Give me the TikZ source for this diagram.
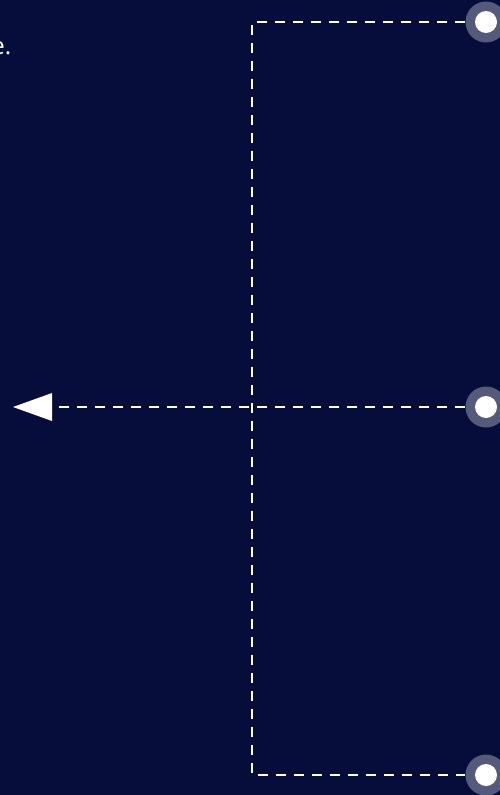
\documentclass[tikz,border=0pt]{standalone}
\usepackage{fontspec}
\setmainfont{Open Sans}
\usetikzlibrary{arrows.meta}
\definecolor{bg}{HTML}{060D3B}
\begin{document}
\begin{tikzpicture}[x=1pt,y=-1pt,
  dot/.style={circle,minimum size=41pt,inner sep=0pt,fill=white,fill opacity=0.32,
    path picture={\fill[white,fill opacity=1] (path picture bounding box.center) circle (11pt);}},
  link/.style={white,line width=1.8pt,dash pattern=on 10pt off 8pt}]
\fill[bg] (0,0) rectangle (500,795);
\useasboundingbox (0,0) rectangle (500,795);
\node[anchor=base east,text=white,font=\fontsize{24}{26}\selectfont,inner sep=0pt] (txt) at (11.5,54) {e.};
\node[dot] (c1) at (486,22) {};
\node[dot] (c2) at (486,407) {};
\node[dot] (c3) at (486,775) {};
\coordinate (k1) at (252,22);
\coordinate (k2) at (252,775);
\coordinate (tip) at (13,407);
\draw[link] (c1.west) -- (k1) -- (k2) -- (c3.west);
\draw[link] (c2.west) -- ([xshift=38pt]tip);
\fill[white] (tip) -- ++(39,-14) -- ++(0,28) -- cycle;
\end{tikzpicture}
\end{document}
